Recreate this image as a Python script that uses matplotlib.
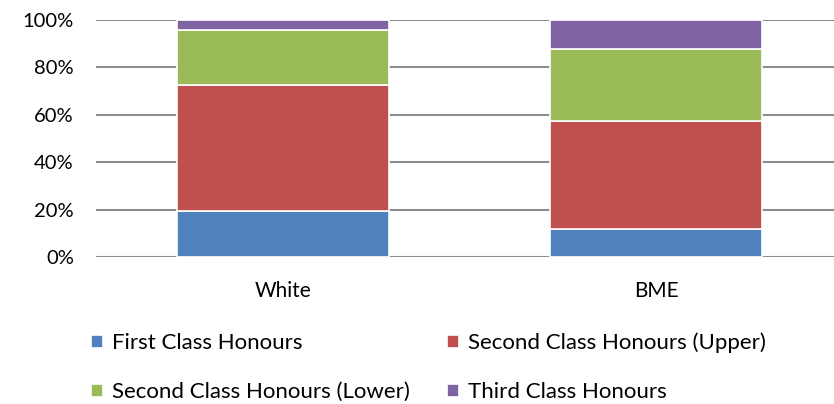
import numpy as np
import matplotlib
matplotlib.use("Agg")
from matplotlib import pyplot as plt
from matplotlib.ticker import PercentFormatter

plt.rcParams['font.family'] = ['Lato', 'DejaVu Sans']

groups = ["White", "BME"]
series = ["First Class Honours", "Second Class Honours (Upper)",
          "Second Class Honours (Lower)", "Third Class Honours"]
first = [19.3, 11.9]
upper = [53.4, 45.5]
lower = [23.1, 30.5]
third = [4.2, 12.1]
colors = ["#4f81bd", "#c0504d", "#9bbb59", "#8064a2"]

W, H = 834, 404
fig = plt.figure(figsize=(W / 100, H / 100), dpi=100)
ax = fig.add_axes([96 / W, (H - 257) / H, (834 - 96) / W, 237 / H])

x = np.arange(len(groups))
bottom = np.zeros(len(groups))
handles = []
for vals, col, name in zip([first, upper, lower, third], colors, series):
    vals = np.array(vals)
    b = ax.bar(x, vals, 0.568, bottom=bottom, color=col, edgecolor="white",
               linewidth=1.2, label=name, zorder=3)
    handles.append(b)
    bottom += vals

ax.set_xlim(-0.501, 1.477)
ax.set_ylim(0, 100)
ax.set_yticks(range(0, 101, 20))
ax.yaxis.set_major_formatter(PercentFormatter(decimals=0))
ax.set_xticks(x)
ax.set_xticklabels(groups, fontsize=15)
ax.tick_params(axis="y", labelsize=14.5, length=0, pad=16)
ax.tick_params(axis="x", length=0, pad=17)
ax.grid(axis="y", color="#8c8c8c", linewidth=1.5, zorder=0)
for s in ax.spines.values():
    s.set_visible(False)

order = [0, 2, 1, 3]
fig.legend([handles[i] for i in order], [series[i] for i in order],
           ncol=2, loc="lower left", bbox_to_anchor=(71 / W, -0.045),
           frameon=False, fontsize=16, handlelength=0.55, handleheight=0.55,
           handletextpad=0.4, columnspacing=1.65, labelspacing=1.3)

fig.savefig("out.png", dpi=100)
